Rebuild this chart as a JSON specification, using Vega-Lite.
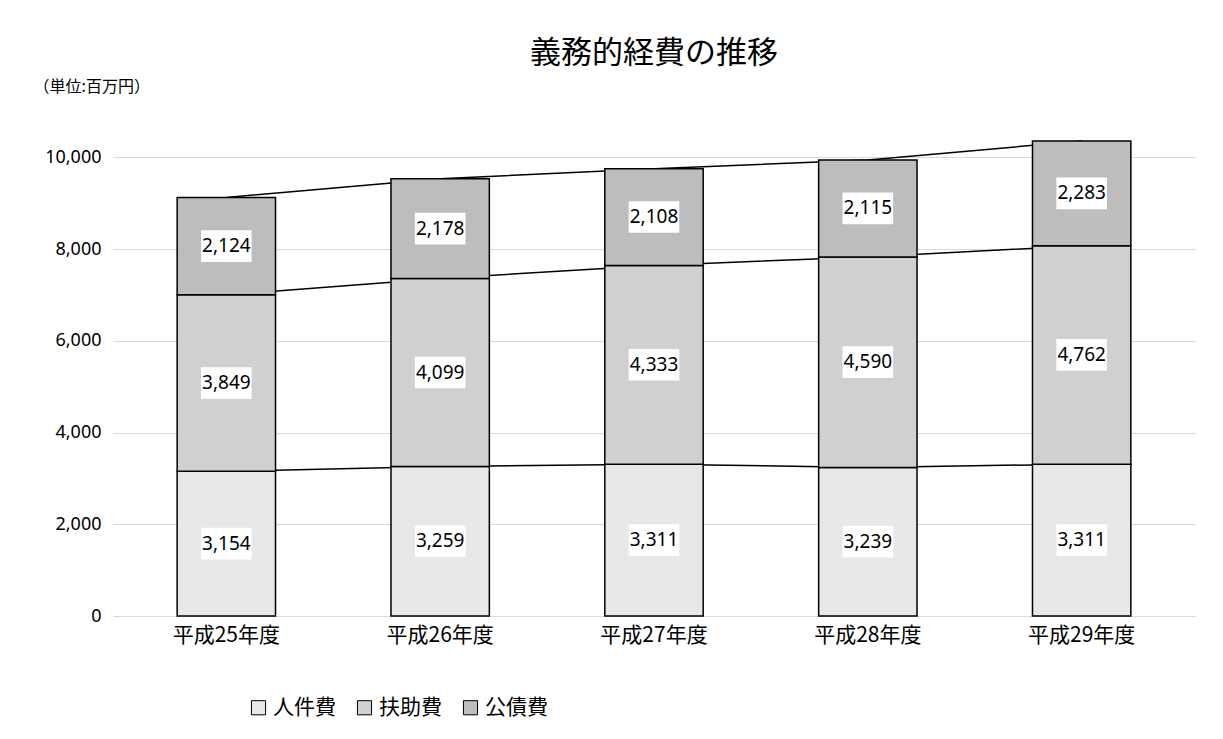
{
  "$schema": "https://vega.github.io/schema/vega-lite/v6.json",
  "autosize": "none",
  "width": 1082,
  "height": 477,
  "padding": {"left": 113, "top": 139, "right": 28, "bottom": 123},
  "background": "white",
  "title": {"text": "義務的経費の推移", "fontSize": 31, "font": "Noto Sans CJK JP", "fontWeight": "normal", "offset": 8, "color": "#000"},
  "data": {"values": [
    {"year": "平成25年度", "item": "人件費", "o": 1, "v": 3154},
    {"year": "平成25年度", "item": "扶助費", "o": 2, "v": 3849},
    {"year": "平成25年度", "item": "公債費", "o": 3, "v": 2124},
    {"year": "平成26年度", "item": "人件費", "o": 1, "v": 3259},
    {"year": "平成26年度", "item": "扶助費", "o": 2, "v": 4099},
    {"year": "平成26年度", "item": "公債費", "o": 3, "v": 2178},
    {"year": "平成27年度", "item": "人件費", "o": 1, "v": 3311},
    {"year": "平成27年度", "item": "扶助費", "o": 2, "v": 4333},
    {"year": "平成27年度", "item": "公債費", "o": 3, "v": 2108},
    {"year": "平成28年度", "item": "人件費", "o": 1, "v": 3239},
    {"year": "平成28年度", "item": "扶助費", "o": 2, "v": 4590},
    {"year": "平成28年度", "item": "公債費", "o": 3, "v": 2115},
    {"year": "平成29年度", "item": "人件費", "o": 1, "v": 3311},
    {"year": "平成29年度", "item": "扶助費", "o": 2, "v": 4762},
    {"year": "平成29年度", "item": "公債費", "o": 3, "v": 2283}
  ]},
  "encoding": {
    "x": {"field": "year", "type": "nominal", "title": null,
      "scale": {"paddingInner": 0.54, "paddingOuter": 0.3},
      "axis": {"labelAngle": 0, "labelFontSize": 21, "labelFont": "Noto Sans CJK JP", "labelColor": "#000", "labelPadding": 8, "ticks": false, "domainColor": "#d9d9d9"}},
    "y": {"field": "v", "type": "quantitative", "stack": "zero",
      "scale": {"domain": [0, 10400], "nice": false},
      "axis": {"values": [0, 2000, 4000, 6000, 8000, 10000], "format": ",.0f", "labelFontSize": 18, "labelColor": "#000", "labelFont": "Noto Sans", "ticks": false, "domain": false, "gridColor": "#d9d9d9", "labelPadding": 12,
        "title": "（単位:百万円）", "titleAngle": 0, "titleX": -80, "titleY": -45, "titleAlign": "left", "titleFont": "Noto Sans CJK JP", "titleFontSize": 16, "titleFontWeight": "normal", "titleColor": "#000"}},
    "order": {"field": "o"}
  },
  "layer": [
    {"mark": {"type": "line", "color": "#000", "strokeWidth": 1.5},
      "encoding": {"detail": {"field": "item"}}},
    {"mark": {"type": "bar", "stroke": "#000", "strokeWidth": 1.5},
      "encoding": {"fill": {"field": "item", "type": "nominal", "title": null,
        "scale": {"domain": ["人件費", "扶助費", "公債費"], "range": ["#e8e8e8", "#d0d0d0", "#bdbdbd"]},
        "legend": {"orient": "none", "legendX": 135, "legendY": 558, "direction": "horizontal", "symbolType": "square", "symbolSize": 200, "symbolStrokeColor": "#000", "symbolStrokeWidth": 1, "labelFontSize": 21, "labelFont": "Noto Sans CJK JP", "labelColor": "#000", "columnPadding": 18}}}},
    {"mark": {"type": "point", "shape": "M-1.6,-1L1.6,-1L1.6,1L-1.6,1Z", "filled": true, "fill": "white", "opacity": 1, "size": 1000},
      "encoding": {"y": {"field": "v", "type": "quantitative", "stack": "zero", "bandPosition": 0.5}}},
    {"mark": {"type": "text", "fontSize": 19, "font": "Noto Sans", "color": "#000"},
      "encoding": {"y": {"field": "v", "type": "quantitative", "stack": "zero", "bandPosition": 0.5}, "text": {"field": "v", "format": ","}}}
  ],
  "config": {"view": {"stroke": null}}
}
